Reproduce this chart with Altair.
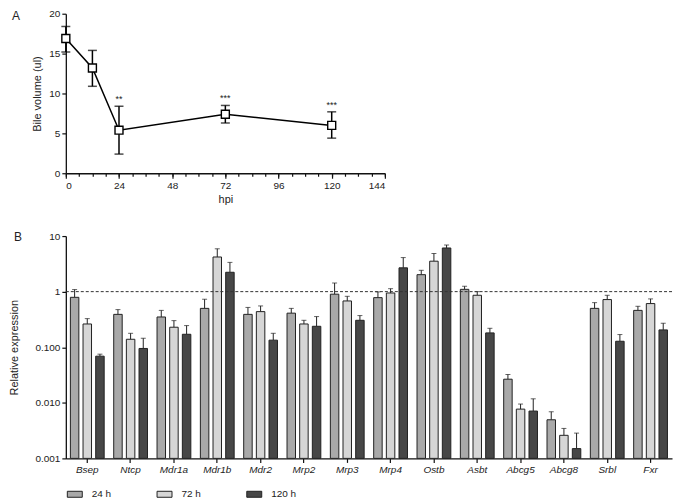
import altair as alt
import pandas as pd

FONT = "Liberation Sans"

# ---------- Panel A data ----------
hpi = [0, 12, 24, 72, 120]
bile = [16.9, 13.2, 5.4, 7.4, 6.0]
bile_hi = [18.4, 15.4, 8.4, 8.5, 7.7]
bile_lo = [15.2, 10.9, 2.4, 6.3, 4.4]
sig = ["", "", "**", "***", "***"]
hpi_ticks = [0, 24, 48, 72, 96, 120, 144]
hpi_minor = [0, 6, 12, 18, 24, 30, 36, 42, 48, 54, 60, 66, 72, 78, 84, 90, 96,
             102, 108, 114, 120, 126, 132, 138, 144]
bile_ticks = [0, 5, 10, 15, 20]

# ---------- Panel B data ----------
genes = ["Bsep", "Ntcp", "Mdr1a", "Mdr1b", "Mdr2", "Mrp2", "Mrp3", "Mrp4",
         "Ostb", "Asbt", "Abcg5", "Abcg8", "Srbl", "Fxr"]
times = ["24 h", "72 h", "120 h"]
h24 = [0.79, 0.39, 0.35, 0.50, 0.39, 0.41, 0.90, 0.78, 2.02, 1.10, 0.0266, 0.00495, 0.50, 0.46]
h24_hi = [1.09, 0.475, 0.46, 0.73, 0.52, 0.50, 1.43, 0.99, 2.42, 1.25, 0.0323, 0.0069, 0.634, 0.545]
h72 = [0.262, 0.139, 0.229, 4.2, 0.437, 0.262, 0.68, 0.946, 3.53, 0.86, 0.0077, 0.0026, 0.72, 0.61]
h72_hi = [0.327, 0.178, 0.301, 5.9, 0.553, 0.305, 0.824, 1.13, 4.85, 1.0, 0.0095, 0.00346, 0.86, 0.74]
h120 = [0.069, 0.095, 0.171, 2.23, 0.134, 0.238, 0.305, 2.68, 6.1, 0.181, 0.0071, 0.0015, 0.128, 0.205]
h120_hi = [0.075, 0.145, 0.245, 3.36, 0.178, 0.356, 0.371, 4.1, 6.9, 0.219, 0.0118, 0.00285, 0.169, 0.27]
expr_ticks = [0.001, 0.01, 0.1, 1, 10]
colors = ["#a9a9a9", "#d6d6d6", "#474747"]

# ---------- Panel A ----------
dfA = pd.DataFrame(dict(hpi=hpi, bile=bile, hi=bile_hi, lo=bile_lo, sig=sig))
baseA = alt.Chart(dfA)

scaleXA = alt.Scale(domain=[0, 144], nice=False)
axisXA = alt.Axis(values=hpi_ticks, title="hpi", orient="bottom", tickSize=5,
                  titlePadding=3, labelPadding=2, titleFontWeight="normal",
                  titleFont=FONT, titleFontSize=11)
scaleYA = alt.Scale(domain=[0, 20], nice=False)
axisYA = alt.Axis(values=bile_ticks, title="Bile volume (ul)", tickSize=4, titlePadding=6)


def xa():
    return alt.X("hpi:Q", scale=scaleXA, axis=axisXA)


def ya(field):
    return alt.Y(field + ":Q", scale=scaleYA, axis=axisYA)


minorA = baseA.mark_rule(opacity=0).encode(
    x=alt.X("hpi:Q", scale=scaleXA,
            axis=alt.Axis(values=hpi_minor, title="", labels=False, orient="bottom",
                          tickSize=3, domain=False, titleOpacity=0)),
    y=ya("bile"))
errA = baseA.mark_rule(color="black", strokeWidth=1.5).encode(x=xa(), y=ya("lo"), y2="hi:Q")
lineA = baseA.mark_line(color="black", strokeWidth=1.5).encode(x=xa(), y=ya("bile"))
capHiA = baseA.mark_tick(orient="horizontal", color="black", size=9, thickness=1.5).encode(
    x=xa(), y=ya("hi"))
capLoA = baseA.mark_tick(orient="horizontal", color="black", size=9, thickness=1.5).encode(
    x=xa(), y=ya("lo"))
ptsA = baseA.mark_point(shape="square", filled=True, fill="white", stroke="black",
                        strokeWidth=1.4, size=64, opacity=1).encode(x=xa(), y=ya("bile"))
sigA = baseA.mark_text(baseline="bottom", dy=-2, fontSize=9, font=FONT, color="#222").encode(
    x=xa(), y=ya("hi"), text="sig:N")
letterA = alt.Chart(pd.DataFrame({"t": ["A"]})).mark_text(
    align="left", baseline="middle", fontSize=12, font=FONT, color="#222").encode(
    x=alt.value(-54), y=alt.value(2), text="t:N")

mainA = alt.layer(errA, lineA, capHiA, capLoA, ptsA, sigA, letterA)
chartA = alt.layer(minorA, mainA).resolve_axis(x="independent").properties(width=320, height=160)

# ---------- Panel B ----------
rows = []
for i, g in enumerate(genes):
    for t, v, h in zip(times, [h24[i], h72[i], h120[i]], [h24_hi[i], h72_hi[i], h120_hi[i]]):
        rows.append(dict(gene=g, time=t, value=v, hi=h))
dfB = pd.DataFrame(rows)
baseB = alt.Chart(dfB)

scaleXB = alt.Scale(paddingInner=0.22, paddingOuter=0.105)
axisXB = alt.Axis(title=None, labelAngle=0, labelFontStyle="italic", tickSize=4,
                  labelPadding=2, labelFontSize=10)
scaleYB = alt.Scale(type="log", domain=[0.001, 10], nice=False)
axisYB = alt.Axis(values=expr_ticks, title="Relative expression", tickSize=4, titlePadding=15,
                  labelExpr="datum.value >= 1 ? format(datum.value, 'd') : format(datum.value, '.3f')")


def xb():
    return alt.X("gene:N", sort=genes, scale=scaleXB, axis=axisXB)


def xob():
    return alt.XOffset("time:N", sort=times, scale=alt.Scale(paddingInner=0.33, paddingOuter=0))


def yb(field):
    return alt.Y(field + ":Q", scale=scaleYB, axis=axisYB)


bars = baseB.mark_bar(stroke="#222", strokeWidth=1).encode(
    x=xb(), xOffset=xob(), y=yb("value"), y2=alt.datum(0.001),
    color=alt.Color("time:N", sort=times, scale=alt.Scale(domain=times, range=colors),
                    legend=alt.Legend(title=None, orient="none", direction="horizontal",
                                      legendX=1, legendY=474, columns=3, gridAlign="all",
                                      symbolType="M-1,-0.4H1V0.4H-1Z", symbolSize=225,
                                      symbolStrokeColor="#222", symbolStrokeWidth=1,
                                      symbolOpacity=1,
                                      labelOffset=9, columnPadding=37, labelFontSize=10,
                                      labelFont=FONT, labelColor="#222")))
errB = baseB.mark_rule(color="#222", strokeWidth=1).encode(
    x=xb(), xOffset=xob(), y=yb("value"), y2="hi:Q")
capB = baseB.mark_tick(orient="horizontal", color="#222", size=5, thickness=1).encode(
    x=xb(), xOffset=xob(), y=yb("hi"))
refB = alt.Chart(pd.DataFrame({"ref": [1]})).mark_rule(
    strokeDash=[3, 2], color="#333", strokeWidth=1).encode(y=yb("ref"))
letterB = alt.Chart(pd.DataFrame({"t": ["B"]})).mark_text(
    align="left", baseline="middle", fontSize=12, font=FONT, color="#222").encode(
    x=alt.value(-52), y=alt.value(1), text="t:N")

chartB = alt.layer(errB, capB, bars, refB, letterB).properties(width=608, height=223)

chart = alt.vconcat(chartA, chartB, spacing=63, bounds="flush").properties(
    padding={"left": 0, "top": 0, "right": 4, "bottom": 0}
).configure_view(stroke=None).configure_axis(
    grid=False, domainColor="#111", tickColor="#111", domainWidth=1.3, tickWidth=1.2,
    labelFont=FONT, titleFont=FONT, labelFontSize=10, titleFontSize=11,
    labelColor="#222", titleColor="#222", titleFontWeight="normal"
)

chart.save("out.html", embed_options={"renderer": "svg", "actions": False})
